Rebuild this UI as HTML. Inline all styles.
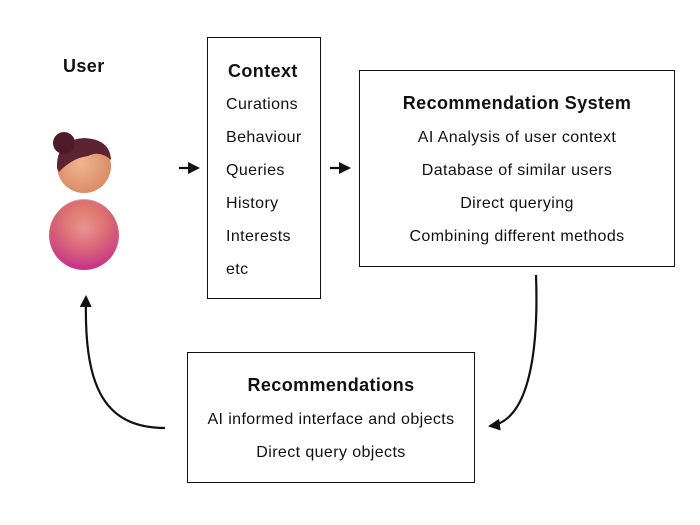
<!DOCTYPE html>
<html><head><style>
body{margin:0;width:700px;height:525px;background:#fff;font-family:"Liberation Sans",sans-serif;color:#111;position:relative;overflow:hidden}
.b{position:absolute;border:1.3px solid #111;box-sizing:border-box}
.t{position:absolute;white-space:nowrap;font-size:16px;letter-spacing:0.4px}
.h{font-weight:bold;font-size:18px}
</style></head><body>
<div class="t h" style="left:63px;top:56px">User</div>
<svg width="700" height="525" style="position:absolute;left:0;top:0">
<defs>
<radialGradient id="hd" cx="45%" cy="45%" r="60%"><stop offset="0" stop-color="#f0b592"/><stop offset="1" stop-color="#d98a63"/></radialGradient>
<radialGradient id="bd" cx="50%" cy="45%" r="60%"><stop offset="0" stop-color="#f4b4ae"/><stop offset="0.5" stop-color="#e37a7a"/><stop offset="1" stop-color="#c23a8a"/></radialGradient>
<linearGradient id="bg2" x1="0" y1="0" x2="0" y2="1"><stop offset="0" stop-color="#e08a5a"/><stop offset="1" stop-color="#c8308a"/></linearGradient>
<marker id="a" markerWidth="14" markerHeight="14" refX="10" refY="6" orient="auto" markerUnits="userSpaceOnUse"><path d="M0,0 L12,6 L0,12 Z" fill="#111"/></marker>
</defs>
<circle cx="84" cy="235" r="35" fill="url(#bg2)"/>
<circle cx="84" cy="232" r="33" fill="url(#bd)" opacity="0.6"/>
<circle cx="84" cy="166" r="27" fill="url(#hd)"/>
<path d="M57,168 Q56,140 84,138 Q110,139 111,160 Q100,150 88,156 Q72,158 59,172 Z" fill="#5c2430"/>
<circle cx="64" cy="143" r="11" fill="#4e1c28"/>
<line x1="179" y1="168" x2="198" y2="168" stroke="#111" stroke-width="2.2" marker-end="url(#a)"/>
<line x1="330" y1="168" x2="349" y2="168" stroke="#111" stroke-width="2.2" marker-end="url(#a)"/>
<path d="M536,275 C538,330 535,420 490,426" fill="none" stroke="#111" stroke-width="2.2" marker-end="url(#a)"/>
<path d="M165,428 C100,428 84,380 86,297" fill="none" stroke="#111" stroke-width="2.2" marker-end="url(#a)"/>
</svg>
<div class="b" style="left:207px;top:37px;width:114px;height:262px"></div>
<div class="t h" style="left:228px;top:61px">Context</div>
<div class="t" style="left:226px;top:96px">Curations</div>
<div class="t" style="left:226px;top:129px">Behaviour</div>
<div class="t" style="left:226px;top:162px">Queries</div>
<div class="t" style="left:226px;top:195px">History</div>
<div class="t" style="left:226px;top:228px">Interests</div>
<div class="t" style="left:226px;top:261px">etc</div>
<div class="b" style="left:359px;top:70px;width:316px;height:197px"></div>
<div class="t h" style="left:359px;width:316px;text-align:center;top:93px">Recommendation System</div>
<div class="t" style="left:359px;width:316px;text-align:center;top:129px">AI Analysis of user context</div>
<div class="t" style="left:359px;width:316px;text-align:center;top:162px">Database of similar users</div>
<div class="t" style="left:359px;width:316px;text-align:center;top:195px">Direct querying</div>
<div class="t" style="left:359px;width:316px;text-align:center;top:228px">Combining different methods</div>
<div class="b" style="left:187px;top:352px;width:288px;height:131px"></div>
<div class="t h" style="left:187px;width:288px;text-align:center;top:375px">Recommendations</div>
<div class="t" style="left:187px;width:288px;text-align:center;top:411px">AI informed interface and objects</div>
<div class="t" style="left:187px;width:288px;text-align:center;top:444px">Direct query objects</div>
</body></html>
